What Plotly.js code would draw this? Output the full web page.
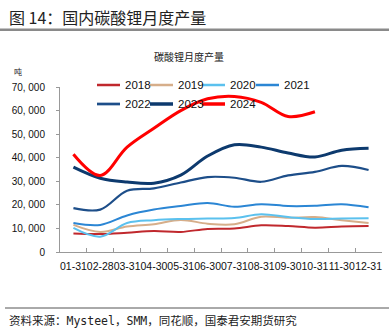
<!DOCTYPE html>
<html>
<head>
<meta charset="utf-8">
<script src="https://cdn.plot.ly/plotly-3.0.1.min.js"></script>
<style>
html,body{margin:0;padding:0;background:#fff;}
#chart{width:389px;height:330px;}
</style>
</head>
<body>
<div id="chart"></div>
<script>
// ---- data ----
const months = ["01-31","02-28","03-31","04-30","05-31","06-30","07-31","08-31","09-30","10-31","11-30","12-31"];
const years = ["2018","2019","2020","2021","2022","2023","2024"];
const y2018 = [7800, 7600, 8200, 8900, 8500, 9800, 10000, 11300, 11000, 10300, 10800, 11000];
const y2019 = [11500, 8500, 10800, 11800, 13600, 12000, 11800, 15000, 14500, 14800, 13500, 12300];
const y2020 = [10200, 6500, 12300, 13500, 14000, 14200, 14400, 16000, 14800, 14000, 14200, 14300];
const y2021 = [12300, 11500, 15500, 18000, 19500, 20800, 19200, 20300, 19500, 19600, 20300, 19000];
const y2022 = [18600, 18000, 26000, 27000, 29500, 31800, 31500, 29800, 32500, 34000, 36500, 34800];
const y2023 = [36000, 31300, 29700, 29200, 32600, 40700, 45500, 44500, 42000, 40300, 43200, 44000];
const y2024 = [41500, 32500, 44500, 52500, 60000, 65000, 66000, 63500, 57500, 59500];
const yTickVals = [0, 10000, 20000, 30000, 40000, 50000, 60000, 70000];
const yTickText = ["0", "10, 000", "20, 000", "30, 000", "40, 000", "50, 000", "60, 000", "70, 000"];

const seriesValues = [y2018, y2019, y2020, y2021, y2022, y2023, y2024];
const colors = ["#C0282D", "#D6AE8A", "#5BC1EE", "#2B86D4", "#1D4E89", "#0D3A6E", "#FF0000"];
const widths = [2, 2, 2, 2, 2.2, 3, 3];

// ---- geometry helpers (pixel -> paper) ----
const W = 389, H = 330;
const M = {l: 60, r: 7, t: 87, b: 78};
const PW = W - M.l - M.r, PH = H - M.t - M.b;
const px = v => (v - M.l) / PW;
const py = v => (H - M.b - v) / PH;

const traces = years.map((yr, i) => ({
  type: "scatter",
  mode: "lines",
  name: yr,
  x: months.slice(0, seriesValues[i].length),
  y: seriesValues[i],
  line: {color: colors[i], width: widths[i], shape: "spline", smoothing: 1},
  hoverinfo: "skip",
  showlegend: false
}));

// custom legend
const legendPos = [[97, 85], [150, 85], [202, 85], [256, 85], [97, 104], [150, 104], [202, 104]];
const shapes = [];
const annotations = [];
years.forEach((yr, i) => {
  const [lx, ly] = legendPos[i];
  shapes.push({type: "line", xref: "paper", yref: "paper",
    x0: px(lx), x1: px(lx + 23), y0: py(ly), y1: py(ly),
    line: {color: colors[i], width: widths[i] + 0.5}});
  annotations.push({xref: "paper", yref: "paper", x: px(lx + 26), y: py(ly),
    xanchor: "left", yanchor: "middle", showarrow: false, text: yr,
    font: {family: "Liberation Sans, Arial, sans-serif", size: 11.5, color: "#111"}});
});

// header rule and footer rule
shapes.push({type: "rect", xref: "paper", yref: "paper",
  x0: px(0), x1: px(389), y0: py(31), y1: py(28.5),
  line: {width: 0}, fillcolor: "#8a8a8a"});
shapes.push({type: "line", xref: "paper", yref: "paper",
  x0: px(5), x1: px(389), y0: py(308), y1: py(308),
  line: {color: "#555", width: 1}});

annotations.push({xref: "paper", yref: "paper", x: px(7), y: py(17),
  xanchor: "left", yanchor: "middle", showarrow: false,
  text: "图 14：国内碳酸锂月度产量",
  font: {family: "Noto Sans CJK SC, sans-serif", size: 16, color: "#222"}});
annotations.push({xref: "paper", yref: "paper", x: px(189), y: py(57),
  xanchor: "center", yanchor: "middle", showarrow: false,
  text: "碳酸锂月度产量",
  font: {family: "Noto Sans CJK SC, sans-serif", size: 10, color: "#222"}});
annotations.push({xref: "paper", yref: "paper", x: px(18), y: py(71),
  xanchor: "center", yanchor: "middle", showarrow: false,
  text: "吨",
  font: {family: "Noto Sans CJK SC, sans-serif", size: 8, color: "#222"}});
annotations.push({xref: "paper", yref: "paper", x: px(7), y: py(321),
  xanchor: "left", yanchor: "middle", showarrow: false,
  text: "资料来源：Mysteel，SMM，同花顺，国泰君安期货研究",
  font: {family: "DejaVu Sans Mono, Noto Sans CJK SC, monospace", size: 11.5, color: "#222"}});

const layout = {
  width: W, height: H,
  margin: M,
  paper_bgcolor: "#fff", plot_bgcolor: "#fff",
  showlegend: false,
  xaxis: {
    type: "category",
    categoryorder: "array", categoryarray: months,
    range: [-0.5, months.length - 0.5],
    tickson: "boundaries",
    ticks: "inside", ticklen: 4, tickcolor: "#999", tickwidth: 1,
    showline: true, linecolor: "#999", linewidth: 1,
    showgrid: false, zeroline: false,
    tickangle: 0,
    tickfont: {family: "Liberation Sans, Arial, sans-serif", size: 10.5, color: "#111"},
    ticklabelstandoff: 4
  },
  yaxis: {
    range: [0, 70000],
    tickvals: yTickVals, ticktext: yTickText,
    ticks: "outside", ticklen: 3, tickcolor: "#999",
    showline: true, linecolor: "#999", linewidth: 1,
    showgrid: false, zeroline: false,
    tickfont: {family: "Liberation Sans, Arial, sans-serif", size: 10, color: "#111"},
    ticklabelstandoff: 9
  },
  shapes: shapes,
  annotations: annotations
};

Plotly.newPlot("chart", traces, layout, {staticPlot: true, displayModeBar: false});
</script>
</body>
</html>
